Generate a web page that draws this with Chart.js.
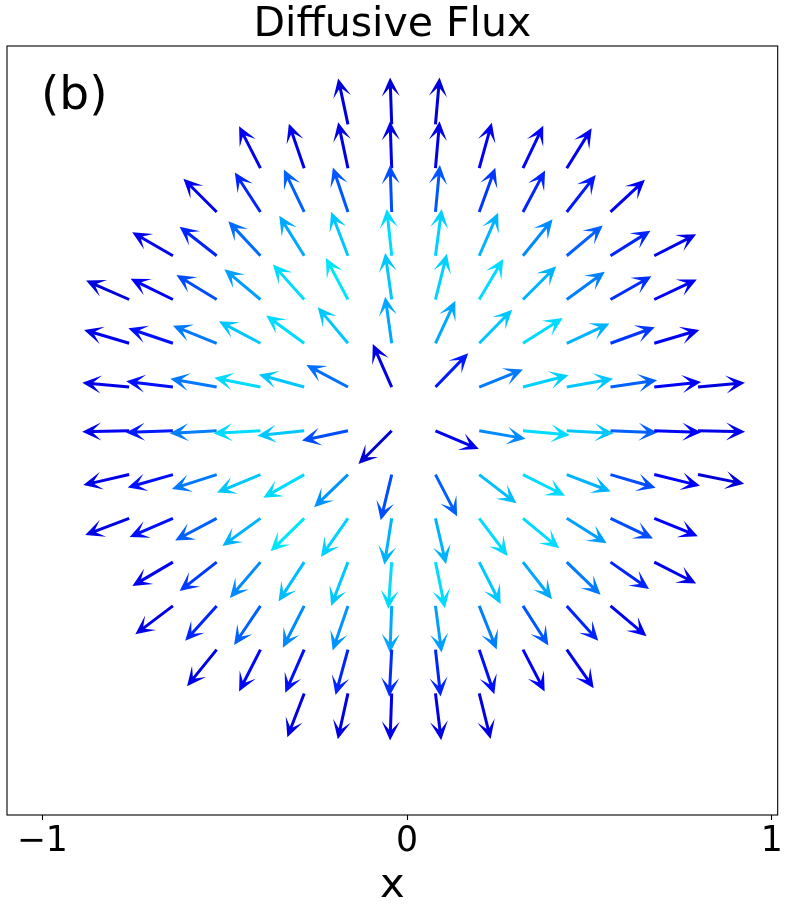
<!DOCTYPE html>
<html>
<head>
<meta charset="utf-8">
<script src="https://cdn.jsdelivr.net/npm/chart.js@4.4.1/dist/chart.umd.min.js"></script>
<style>
  html, body { margin: 0; padding: 0; background: #fff; }
  canvas { display: block; }
</style>
</head>
<body>
<canvas id="fluxCanvas" width="787" height="912"></canvas>
<script>
// --- Data ---
// grid of arrow tails (data units)
const gridX = [-0.762, -0.642, -0.522, -0.402, -0.282, -0.162, -0.042, 0.078, 0.198, 0.318, 0.438, 0.558, 0.678, 0.798];
const gridY = [0.84, 0.72, 0.60, 0.48, 0.36, 0.24, 0.12, 0.0, -0.12, -0.24, -0.36, -0.48, -0.60, -0.72];
// first column index with an arrow, per row (top row first)
const rowStartCol = [5, 3, 2, 1, 0, 0, 0, 0, 0, 0, 1, 1, 2, 4];

// flux direction per arrow, degrees counter-clockwise from +x
const fluxAngle = [
  [102, 92, 85],
  [117, 109, 102, 92, 85, 74.5, 64.5, 58],
  [135, 123, 115.6, 108.7, 92, 84.6, 70, 62, 52, 43],
  [150, 142, 133, 122, 111, 96, 82.4, 66.3, 51, 40, 32, 27],
  [156.3, 154, 148.7, 140, 131.8, 118, 98, 76, 59.3, 45, 36, 29.6, 25.3],
  [163.5, 161.3, 158.3, 152, 144, 130, 98, 65, 45.5, 32.4, 24.7, 19.9, 16.5],
  [174.7, 173, 170, 168.7, 164.7, 151.9, 113.7, 45.9, 21.9, 14.6, 10.2, 8.3, 6.2, 5.3],
  [181.2, 182, 182.9, 182.9, 186, 192, 225, 337.1, 350.3, 355, 357.1, 357.9, 358.3, 358.8],
  [192.9, 196, 197.9, 202.5, 209.6, 224, 256.5, 297.4, 322.4, 333.3, 339, 343.6, 346.3, 348.7],
  [200.8, 203.2, 208, 216, 224.4, 235, 261, 283, 307, 320.4, 328, 334.5, 337.8],
  [210.5, 218, 229.5, 236.9, 249, 265.8, 281.7, 297, 308, 316, 325, 333],
  [217, 228, 236, 243, 251, 267.9, 277.5, 291.8, 302.7, 312, 320],
  [231, 243, 246.3, 254.7, 267, 276.3, 288.7, 297.4, 305],
  [249, 257.5, 268, 277, 284]
];

// flux magnitude per arrow (colour level on the jet map)
const fluxMag = [
  [0.08, 0.075, 0.08],
  [0.10, 0.09, 0.085, 0.09, 0.09, 0.10, 0.12, 0.10],
  [0.10, 0.16, 0.22, 0.21, 0.20, 0.21, 0.18, 0.16, 0.15, 0.10],
  [0.10, 0.16, 0.23, 0.29, 0.32, 0.34, 0.33, 0.30, 0.26, 0.22, 0.16, 0.09],
  [0.08, 0.125, 0.20, 0.28, 0.34, 0.35, 0.32, 0.33, 0.34, 0.30, 0.25, 0.17, 0.10],
  [0.09, 0.14, 0.245, 0.32, 0.34, 0.32, 0.29, 0.29, 0.32, 0.34, 0.30, 0.18, 0.10],
  [0.09, 0.14, 0.245, 0.34, 0.32, 0.235, 0.09, 0.15, 0.245, 0.33, 0.32, 0.22, 0.11, 0.085],
  [0.10, 0.15, 0.25, 0.34, 0.32, 0.20, 0.07, 0.10, 0.26, 0.34, 0.32, 0.22, 0.11, 0.09],
  [0.09, 0.14, 0.245, 0.32, 0.34, 0.27, 0.20, 0.22, 0.31, 0.34, 0.30, 0.20, 0.11, 0.075],
  [0.09, 0.14, 0.22, 0.30, 0.35, 0.33, 0.30, 0.30, 0.34, 0.34, 0.28, 0.20, 0.115],
  [0.10, 0.18, 0.26, 0.31, 0.32, 0.34, 0.34, 0.32, 0.29, 0.245, 0.16, 0.09],
  [0.09, 0.16, 0.22, 0.26, 0.27, 0.29, 0.28, 0.25, 0.21, 0.16, 0.10],
  [0.09, 0.13, 0.14, 0.16, 0.17, 0.16, 0.14, 0.125, 0.10],
  [0.085, 0.085, 0.09, 0.085, 0.085]
];

const xTicks = [-1, 0, 1];

// --- Constants ---
const FONT = 'DejaVu Sans';
const X_MIN = -1.097, X_MAX = 1.0165;
const Y_MIN = -1.0533, Y_MAX = 1.055;
const ARROW_LEN = 0.129;   // normalised arrow length (data units)

// --- Helper: matplotlib jet colormap (low end) ---
function jet(t) {
    const b = t < 0.11 ? 0.5 + (t / 0.11) * 0.5 : (t < 0.34 ? 1 : Math.max(0, 1 - (t - 0.34) / 0.31));
    const g = t < 0.125 ? 0 : (t < 0.375 ? (t - 0.125) / 0.25 : 1);
    return `rgb(0,${Math.round(g * 255)},${Math.round(b * 255)})`;
}

// quiver-style filled arrow, pixels
function drawArrow(ctx, x0, y0, x1, y1, color) {
    const dx = x1 - x0, dy = y1 - y0;
    const L = Math.hypot(dx, dy);
    const ux = dx / L, uy = dy / L, nx = -uy, ny = ux;
    const w = 1.5, hw = 9, hl = 19, hal = 11;
    const pts = [[0, -w], [L - hal, -w], [L - hl, -hw], [L, 0], [L - hl, hw], [L - hal, w], [0, w]];
    ctx.beginPath();
    pts.forEach(([a, b], i) => {
        const px = x0 + ux * a + nx * b, py = y0 + uy * a + ny * b;
        if (i === 0) ctx.moveTo(px, py); else ctx.lineTo(px, py);
    });
    ctx.closePath();
    ctx.fillStyle = color;
    ctx.fill();
}

// --- Build the point list from the row arrays ---
const arrowPoints = [];
fluxAngle.forEach((row, r) => {
    row.forEach((ang, i) => {
        const col = rowStartCol[r] + i;
        arrowPoints.push({ x: gridX[col], y: gridY[r], angle: ang, mag: fluxMag[r][i] });
    });
});

// --- Plugins ---
const quiverPlugin = {
    id: 'quiver',
    afterDatasetsDraw(chart) {
        const { ctx, scales: { x, y } } = chart;
        ctx.save();
        chart.data.datasets[0].data.forEach(p => {
            const rad = p.angle * Math.PI / 180;
            const x0 = x.getPixelForValue(p.x);
            const y0 = y.getPixelForValue(p.y);
            const x1 = x.getPixelForValue(p.x + ARROW_LEN * Math.cos(rad));
            const y1 = y.getPixelForValue(p.y + ARROW_LEN * Math.sin(rad));
            drawArrow(ctx, x0, y0, x1, y1, jet(p.mag));
        });
        ctx.restore();
    }
};

const framePlugin = {
    id: 'frame',
    afterDraw(chart) {
        const { ctx, chartArea: a } = chart;
        ctx.save();
        ctx.strokeStyle = '#000';
        ctx.lineWidth = 1.1;
        ctx.strokeRect(a.left, a.top, a.right - a.left, a.bottom - a.top);
        // panel tag
        ctx.fillStyle = '#000';
        ctx.font = `47px "${FONT}"`;
        ctx.textBaseline = 'alphabetic';
        ctx.textAlign = 'left';
        ctx.fillText('(b)', a.left + 34, a.top + 63);
        ctx.restore();
    }
};

new Chart(document.getElementById('fluxCanvas'), {
    type: 'scatter',
    data: {
        datasets: [{
            label: 'Diffusive flux',
            data: arrowPoints,
            pointRadius: 0,
            showLine: false
        }]
    },
    options: {
        responsive: false,
        animation: false,
        layout: { padding: { left: 7, right: 9.3, top: 0, bottom: 0 } },
        scales: {
            x: {
                type: 'linear',
                min: X_MIN, max: X_MAX,
                afterBuildTicks: s => { s.ticks = xTicks.map(v => ({ value: v })); },
                afterFit: s => { s.height = 97; },
                ticks: {
                    autoSkip: false, maxRotation: 0, padding: 1, color: '#000',
                    font: { family: FONT, size: 34.7 },
                    callback: v => (v < 0 ? '\u2212' + Math.abs(v) : String(v))
                },
                grid: { display: true, drawOnChartArea: false, drawTicks: true, tickLength: 5, tickWidth: 1.1, tickColor: '#000' },
                border: { display: false },
                title: { display: true, text: 'x', color: '#000', font: { family: FONT, size: 41.7 }, padding: { top: 0, bottom: 1 } }
            },
            y: { type: 'linear', min: Y_MIN, max: Y_MAX, display: false }
        },
        plugins: {
            legend: { display: false },
            tooltip: { enabled: false },
            title: {
                display: true, text: 'Diffusive Flux', color: '#000',
                font: { family: FONT, size: 41, weight: 'normal', lineHeight: 1 },
                padding: { top: 5, bottom: 0 }
            }
        }
    },
    plugins: [quiverPlugin, framePlugin]
});
</script>
</body>
</html>
